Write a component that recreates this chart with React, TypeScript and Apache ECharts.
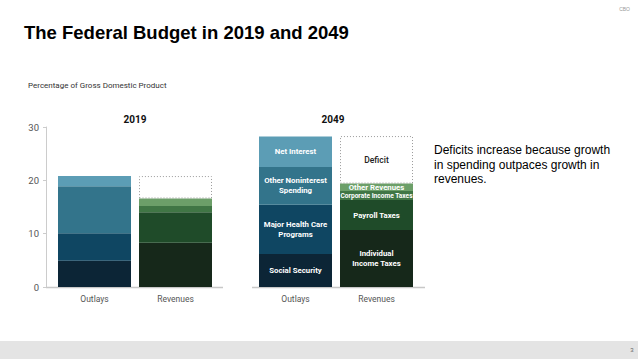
import React, { useEffect, useRef } from "react";
import * as echarts from "echarts";

const categories = ["Outlays", "Revenues"];
const years = ["2019", "2049"];
const outlayNames = ["Social Security", "Major Health Care Programs", "Other Noninterest Spending", "Net Interest"];
const outlays2019 = [4.9, 5.2, 8.8, 1.9];
const outlays2049 = [6.2, 9.2, 7.1, 5.7];
const outlayLabels2049 = ["Social Security", "Major Health Care\nPrograms", "Other Noninterest\nSpending", "Net Interest"];
const revenueNames = ["Individual Income Taxes", "Payroll Taxes", "Corporate Income Taxes", "Other Revenues"];
const revenues2019 = [8.3, 5.7, 1.2, 1.4];
const revenues2049 = [10.7, 5.6, 1.7, 1.4];
const revenueLabels2049 = ["Individual\nIncome Taxes", "Payroll Taxes", "Corporate Income Taxes", "Other Revenues"];
const deficits = [4.2, 8.9];
const yTicks = [0, 10, 20, 30];

const outlayColors = ["#0c2536", "#0f4662", "#33748b", "#5c9db5"];
const revenueColors = ["#16281a", "#1f4b29", "#407645", "#6c9f69"];

const FONT = "Roboto, 'Liberation Sans', sans-serif";

function buildSeries(gi: number, outs: number[], revs: number[], deficit: number, outLabels: string[] | null, revLabels: string[] | null) {
  const series: any[] = [];
  outs.forEach((v, i) => {
    series.push({
      type: "bar",
      name: outlayNames[i],
      xAxisIndex: gi,
      yAxisIndex: gi,
      stack: "s" + gi,
      barWidth: 73,
      itemStyle: { color: outlayColors[i] },
      label: {
        show: !!outLabels,
        position: "inside",
        color: "#ffffff",
        fontFamily: FONT,
        fontWeight: "bold",
        fontSize: 7.8,
        lineHeight: 10,
        formatter: outLabels ? outLabels[i] : "",
      },
      data: [v, "-"],
    });
  });
  revs.forEach((v, i) => {
    series.push({
      type: "bar",
      name: revenueNames[i],
      xAxisIndex: gi,
      yAxisIndex: gi,
      stack: "s" + gi,
      barWidth: 73,
      itemStyle: { color: revenueColors[i] },
      label: {
        show: !!revLabels,
        position: "inside",
        color: "#ffffff",
        fontFamily: FONT,
        fontWeight: "bold",
        fontSize: i === 2 ? 6.6 : 7.8,
        lineHeight: 10,
        formatter: revLabels ? revLabels[i] : "",
      },
      data: ["-", v],
    });
  });
  series.push({
    type: "bar",
    name: "Deficit",
    xAxisIndex: gi,
    yAxisIndex: gi,
    stack: "s" + gi,
    barWidth: 73,
    itemStyle: { color: "#ffffff", borderColor: "#9a9a9a", borderWidth: 1, borderType: [1, 2] },
    label: {
      show: !!revLabels,
      position: "inside",
      color: "#222222",
      fontFamily: FONT,
      fontWeight: 500,
      fontSize: 8.5,
      formatter: "Deficit",
    },
    data: ["-", deficit],
  });
  return series;
}

export default function App() {
  const ref = useRef<HTMLDivElement>(null);
  useEffect(() => {
    if (!ref.current) return;
    const chart = echarts.init(ref.current, null, { renderer: "svg" });
    const yAxisBase = {
      type: "value",
      min: 0,
      max: 30,
      interval: 10,
      splitLine: { show: false },
    };
    const option: any = {
      animation: false,
      backgroundColor: "#ffffff",
      grid: [
        { left: 54, top: 127, width: 162, height: 160 },
        { left: 255, top: 127, width: 162, height: 160 },
      ],
      xAxis: [0, 1].map((gi) => ({
        type: "category",
        gridIndex: gi,
        data: categories,
        axisLine: { show: false },
        axisTick: { show: false },
        axisLabel: { color: "#555555", fontFamily: FONT, fontSize: 8.5, margin: 7 },
      })),
      yAxis: [
        {
          ...yAxisBase,
          gridIndex: 0,
          offset: 8,
          axisLine: { show: true, lineStyle: { color: "#cccccc", width: 1 } },
          axisTick: { show: true, length: 3, lineStyle: { color: "#cccccc" } },
          axisLabel: {
            color: "#555555",
            fontFamily: FONT,
            fontSize: 9.5,
            margin: 7,
            formatter: (v: number) => (yTicks.includes(v) ? String(v) : ""),
          },
        },
        { ...yAxisBase, gridIndex: 1, show: false },
      ],
      series: [
        ...buildSeries(0, outlays2019, revenues2019, deficits[0], null, null),
        ...buildSeries(1, outlays2049, revenues2049, deficits[1], outlayLabels2049, revenueLabels2049),
      ],
      graphic: [
        {
          type: "text",
          left: 24,
          top: 23,
          style: { text: "The Federal Budget in 2019 and 2049", fill: "#000000", font: "bold 18.5px 'Liberation Sans', Arial, sans-serif" },
        },
        {
          type: "text",
          right: 8,
          top: 6,
          style: { text: "CBO", fill: "#9a9a9a", font: "5px 'Liberation Sans', Arial, sans-serif" },
        },
        {
          type: "text",
          left: 28,
          top: 81,
          style: { text: "Percentage of Gross Domestic Product", fill: "#333333", font: "8px Roboto, sans-serif" },
        },
        {
          type: "text",
          x: 135,
          y: 119,
          style: { text: years[0], fill: "#111111", font: "bold 10px Roboto, sans-serif", align: "center", verticalAlign: "middle" },
        },
        {
          type: "text",
          x: 333,
          y: 119,
          style: { text: years[1], fill: "#111111", font: "bold 10px Roboto, sans-serif", align: "center", verticalAlign: "middle" },
        },
        {
          type: "line",
          shape: { x1: 46, y1: 287.5, x2: 223, y2: 287.5 },
          style: { stroke: "#c8c8c8", lineWidth: 1.5 },
        },
        {
          type: "line",
          shape: { x1: 252, y1: 287.5, x2: 425, y2: 287.5 },
          style: { stroke: "#c8c8c8", lineWidth: 1.5 },
        },
        {
          type: "text",
          left: 434,
          top: 143,
          style: {
            text: "Deficits increase because growth\nin spending outpaces growth in\nrevenues.",
            fill: "#000000",
            font: "12px 'Liberation Sans', Arial, sans-serif",
            lineHeight: 14.5,
          },
        },
        {
          type: "rect",
          shape: { x: 0, y: 341, width: 638, height: 18 },
          style: { fill: "#e4e4e4" },
        },
        {
          type: "text",
          x: 632,
          y: 350,
          style: { text: "3", fill: "#666666", font: "6px 'Liberation Sans', Arial, sans-serif", align: "center", verticalAlign: "middle" },
        },
      ],
    };
    chart.setOption(option);
    return () => chart.dispose();
  }, []);
  return <div ref={ref} style={{ position: "fixed", left: 0, top: 0, width: 638, height: 359 }} />;
}
